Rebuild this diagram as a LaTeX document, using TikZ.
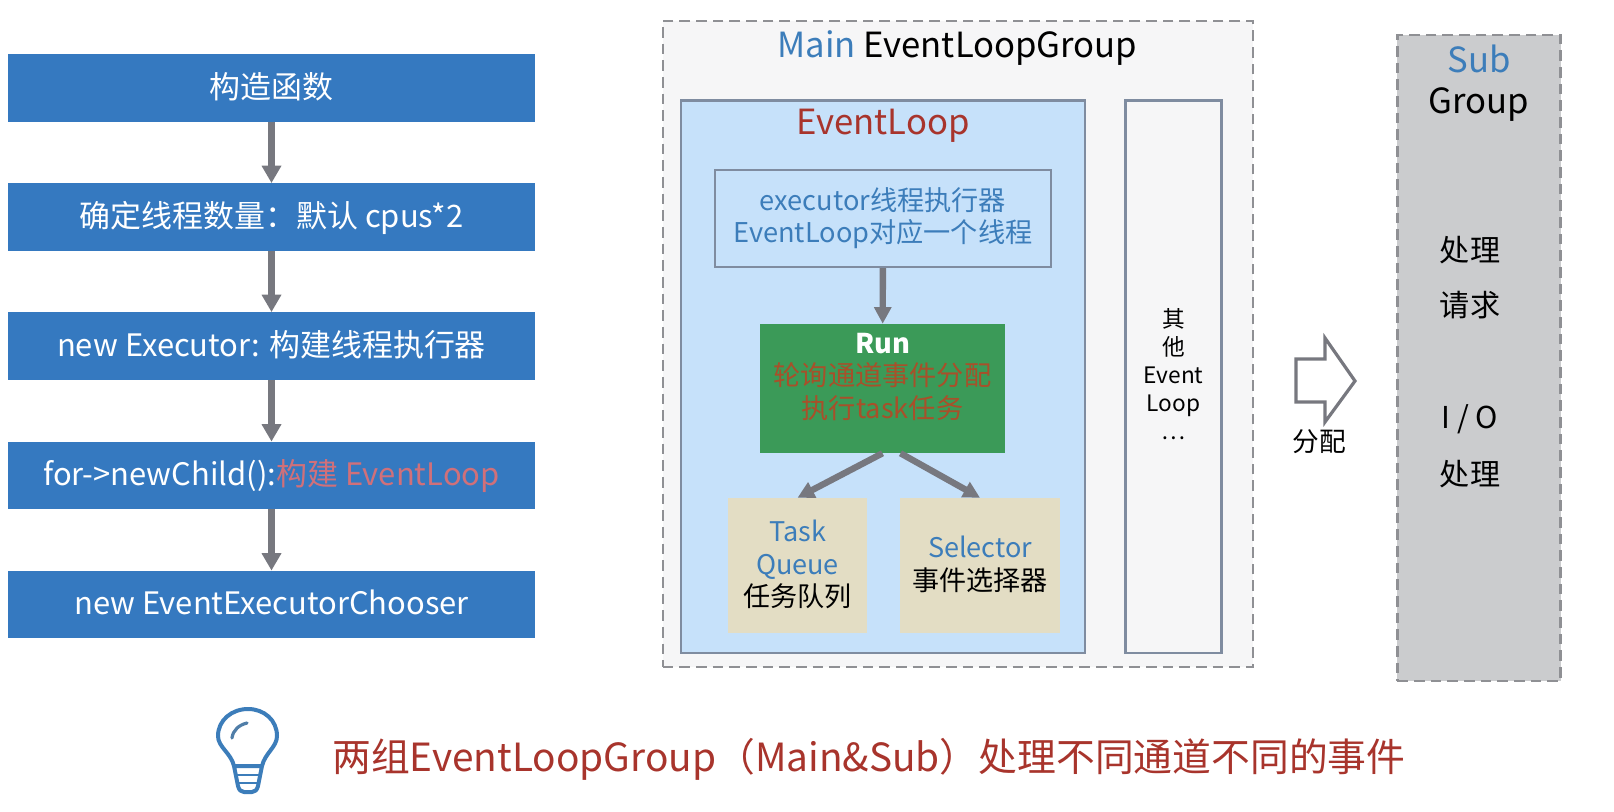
\documentclass[tikz,border=0pt]{standalone}
\usepackage{fontspec}
\setmainfont{Noto Sans CJK SC}
\usetikzlibrary{arrows.meta,calc}
\definecolor{flowblue}{HTML}{3579C0}
\definecolor{txtblue}{HTML}{3C7DBA}
\definecolor{linegray}{HTML}{77787F}
\definecolor{dashgray}{HTML}{8F9094}
\definecolor{txtred}{HTML}{A8342C}
\definecolor{softred}{HTML}{D0707A}
\definecolor{runred}{HTML}{A8502A}
\definecolor{loopblue}{HTML}{C6E1FA}
\definecolor{loopedge}{HTML}{7F8CA0}
\definecolor{runfill}{HTML}{3B9A58}
\definecolor{tan}{HTML}{E3DDC4}
\definecolor{subgray}{HTML}{CBCCCE}
\definecolor{pale}{HTML}{F6F6F7}
\newcommand{\lift}[3]{\raisebox{#1}[0pt][0pt]{\parbox{#2}{\centering #3}}}
\tikzset{
 x=0.75pt,y=-0.75pt,
 flowbox/.style={fill=flowblue,text=white,minimum width=395.25pt,minimum height=50.5pt,inner sep=0pt,text height=20pt,text depth=4.6pt,font=\fontsize{23.2}{27}\selectfont,anchor=center},
 flowarrow/.style={draw=linegray,line width=5pt,-{Triangle[width=14pt,length=13pt]}},
 grouparrow/.style={draw=linegray,line width=4.8pt,-{Triangle[width=12.5pt,length=12.5pt]}},
 framebox/.style={draw=loopedge,line width=1.8pt,inner sep=0pt},
 tanbox/.style={fill=tan,inner sep=0pt,font=\fontsize{20.3}{24.4}\selectfont},
 groupedge/.style={draw=dashgray,dash pattern=on 8pt off 4.5pt,line width=1.7pt,inner sep=0pt},
}
\begin{document}
\begin{tikzpicture}
\useasboundingbox (0,0) rectangle (1614,812);
\fill[white] (0,0) rectangle (1614,812);
% left flow
\node[flowbox] (f1) at (271.5,88) {构造函数};
\node[flowbox] (f2) at (271.5,217) {确定线程数量：默认 cpus*2};
\node[flowbox] (f3) at (271.5,346) {new Executor: 构建线程执行器};
\node[flowbox] (f4) at (271.5,475.5) {for->newChild():\textcolor{softred}{构建 EventLoop}};
\node[flowbox] (f5) at (271.5,604.5) {new EventExecutorChooser};
\foreach \a/\b in {f1/f2,f2/f3,f3/f4,f4/f5}
  \draw[flowarrow] (\a) -- (\b);
% main group
\node[groupedge,fill=pale,minimum width=443pt,minimum height=484.5pt] (main) at (958,344) {};
\node[inner sep=0pt,font=\fontsize{26}{30}\selectfont] (mainT) at (957.5,48) {\textcolor{txtblue}{Main} EventLoopGroup};
\node[framebox,fill=loopblue,minimum width=303pt,minimum height=414.4pt] (loop) at (883,376.75) {};
\node[inner sep=0pt,text=txtred,font=\fontsize{26}{30}\selectfont] (loopT) at (883,126) {EventLoop};
\node[framebox,fill=loopblue,minimum width=252pt,minimum height=72.75pt,align=center,text=txtblue,font=\fontsize{20.4}{24}\selectfont] (exec) at (883,218.5) {executor线程执行器\\EventLoop对应一个线程};
\node[fill=runfill,inner sep=0pt,minimum width=184pt,minimum height=96.75pt,font=\fontsize{20.4}{24.3}\selectfont] (run) at (882.5,388.5) {\lift{3.5pt}{180pt}{\textcolor{white}{\bfseries Run}\\\textcolor{runred}{轮询通道事件分配}\\\textcolor{runred}{执行task任务}}};
\node[tanbox,minimum width=104.25pt,minimum height=100.9pt] (task) at (797.5,565.25) {\lift{-4.6pt}{100pt}{\textcolor{txtblue}{Task}\\\textcolor{txtblue}{Queue}\\任务队列}};
\node[tanbox,minimum width=120pt,minimum height=100.9pt] (sel) at (980,565.25) {\lift{-4.6pt}{116pt}{\textcolor{txtblue}{Selector}\\事件选择器}};
\draw[grouparrow] (exec) -- (run);
\draw[grouparrow] (run.south) -- (task.north);
\draw[grouparrow] ($(run.south)+(18,0)$) -- (sel.north);
\node[framebox,fill=pale,minimum width=72pt,minimum height=414.4pt,font=\fontsize{17}{21}\selectfont] (other) at (1173.5,376.75) {\lift{-2.2pt}{70pt}{其\\他\\Event\\Loop\\…}};
% distribute arrow
\path[draw=linegray,line width=2.4pt,fill=white,line join=miter] (1296,359) -- (1325,359) -- (1325,338) -- (1355,381) -- (1325,422) -- (1325,402) -- (1296,402) -- cycle;
\node[inner sep=0pt,font=\fontsize{20}{24}\selectfont] (fen) at (1319,442) {分配};
% sub group
\node[groupedge,fill=subgray,minimum width=122.4pt,minimum height=484.5pt] (sub) at (1479,358) {};
\node[inner sep=0pt,text=txtblue,font=\fontsize{26}{30}\selectfont] (subA) at (1479,59) {Sub};
\node[inner sep=0pt,font=\fontsize{26}{30}\selectfont] (subB) at (1479,105) {Group};
\foreach \n/\y/\t in {s1/250/处理,s2/305/请求,s3/419/{I / O},s4/474/处理}
  \node[inner sep=0pt,font=\fontsize{22.6}{26}\selectfont] (\n) at (1470,\y) {\t};
% bulb
\begin{scope}[draw=txtblue,line width=3pt,line cap=round,line join=round]
\draw (234,766) .. controls (231,753) and (218,747) .. (218,736)
      .. controls (218,720) and (232,709) .. (248,709)
      .. controls (264,709) and (277,720) .. (277,736)
      .. controls (277,747) and (265,753) .. (262,766) -- (234,766)
      -- (238,786) .. controls (239,790) and (241,792) .. (244,792) -- (252,792)
      .. controls (255,792) and (257,790) .. (258,786) -- (262,766);
\draw[line width=2.4pt,draw=txtblue!70!gray] (232,738) .. controls (233,730) and (239,725) .. (247,723);
\draw[line width=2.2pt] (236,775) -- (260,775);
\draw[line width=2.2pt] (238,783) -- (258,783);
\end{scope}
\node[inner sep=0pt,anchor=west,text=txtred,font=\fontsize{29.1}{34}\selectfont] (note) at (332,759) {两组EventLoopGroup（Main\&Sub）处理不同通道不同的事件};
\end{tikzpicture}
\end{document}
